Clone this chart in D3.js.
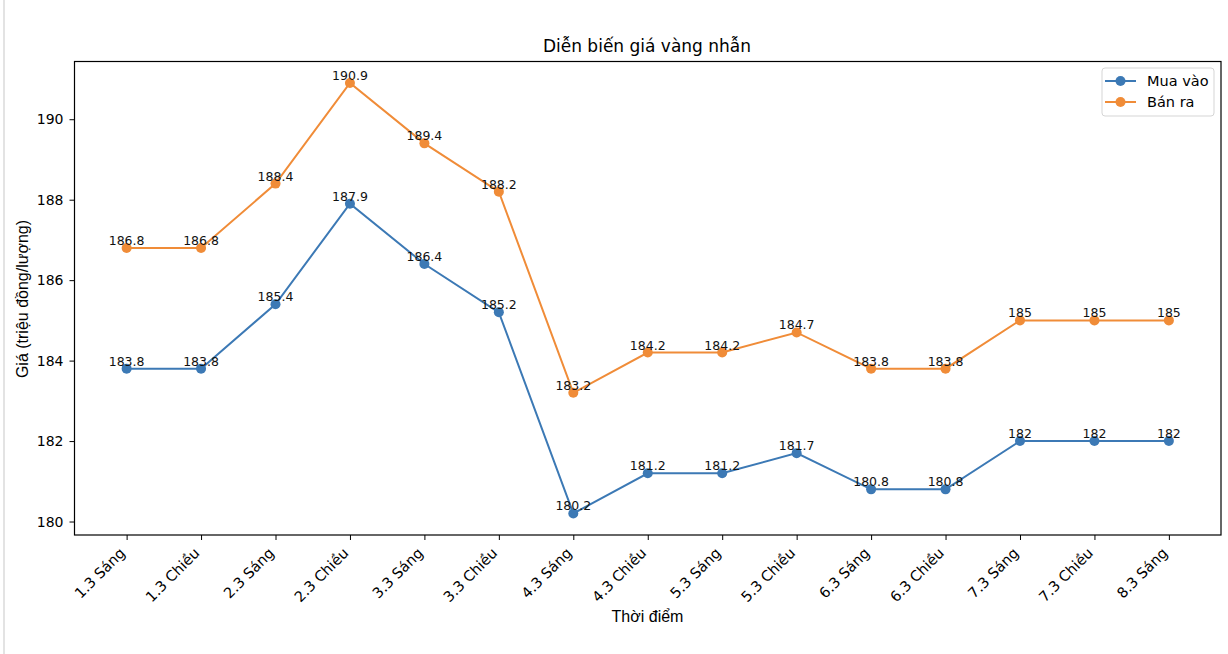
<html>
  <head>
    <meta charset="utf-8" />
    <script src="https://d3js.org/d3.v7.min.js"></script>
    <style>
      body { margin: 0; background: #fff; }
      text { font-family: "DejaVu Sans", sans-serif; }
    </style>
  </head>
  <body>
    <div id="chart"></div>
    <script>
      // du lieu gia vang nhan
      const thoiDiem = ["1.3 Sáng", "1.3 Chiều", "2.3 Sáng", "2.3 Chiều", "3.3 Sáng", "3.3 Chiều",
                        "4.3 Sáng", "4.3 Chiều", "5.3 Sáng", "5.3 Chiều", "6.3 Sáng", "6.3 Chiều",
                        "7.3 Sáng", "7.3 Chiều", "8.3 Sáng"];
      const muaVao = [183.8, 183.8, 185.4, 187.9, 186.4, 185.2, 180.2, 181.2, 181.2, 181.7, 180.8, 180.8, 182, 182, 182];
      const banRa  = [186.8, 186.8, 188.4, 190.9, 189.4, 188.2, 183.2, 184.2, 184.2, 184.7, 183.8, 183.8, 185, 185, 185];
      const yTicks = [180, 182, 184, 186, 188, 190];

      const series = [
        { name: "Mua vào", values: muaVao, color: "#3c79b5" },
        { name: "Bán ra",  values: banRa,  color: "#f08c38" }
      ];

      const W = 1228, H = 654;
      const mLeft = 74.5, mRight = 1221, mTop = 61.5, mBottom = 535;

      const svg = d3.select("#chart").append("svg")
        .attr("width", W).attr("height", H);

      // bordure grise a gauche (capture notebook)
      svg.append("rect").attr("x", 3).attr("y", 0).attr("width", 2).attr("height", H).attr("fill", "#e3e3e3");

      // marges 5% comme matplotlib
      const n = thoiDiem.length;
      const x = d3.scaleLinear().domain([-0.7, n - 1 + 0.7]).range([mLeft, mRight]);
      const all = muaVao.concat(banRa);
      const ymin = d3.min(all), ymax = d3.max(all), pad = (ymax - ymin) * 0.05;
      const y = d3.scaleLinear().domain([ymin - pad, ymax + pad]).range([mBottom, mTop]);

      // axe y
      const gy = svg.append("g").attr("transform", "translate(" + mLeft + ",0)")
        .call(d3.axisLeft(y).tickValues(yTicks).tickSize(5).tickPadding(6).tickFormat(d3.format("d")));
      gy.select(".domain").remove();
      gy.selectAll("text").style("font-size", "14px").attr("fill", "#000");
      gy.selectAll("line").attr("stroke", "#000");

      // axe x
      const gx = svg.append("g").attr("transform", "translate(0," + mBottom + ")")
        .call(d3.axisBottom(x).tickValues(d3.range(n)).tickSize(5).tickFormat(i => thoiDiem[i]));
      gx.select(".domain").remove();
      gx.selectAll("line").attr("stroke", "#000");
      gx.selectAll("text")
        .style("font-size", "14.5px").attr("fill", "#000")
        .attr("text-anchor", "end")
        .attr("dy", null)
        .attr("y", null)
        .attr("transform", "translate(-1,19) rotate(-45)");

      // cadre
      svg.append("rect")
        .attr("x", mLeft).attr("y", mTop)
        .attr("width", mRight - mLeft).attr("height", mBottom - mTop)
        .attr("fill", "none").attr("stroke", "#000").attr("stroke-width", 1.2);

      const line = d3.line().x((d, i) => x(i)).y(d => y(d));

      series.forEach(s => {
        svg.append("path")
          .datum(s.values)
          .attr("d", line)
          .attr("fill", "none")
          .attr("stroke", s.color)
          .attr("stroke-width", 2);
        svg.selectAll(null)
          .data(s.values)
          .enter().append("circle")
          .attr("cx", (d, i) => x(i))
          .attr("cy", d => y(d))
          .attr("r", 5)
          .attr("fill", s.color);
        svg.selectAll(null)
          .data(s.values)
          .enter().append("text")
          .attr("x", (d, i) => x(i))
          .attr("y", d => y(d) - 3)
          .attr("text-anchor", "middle")
          .style("font-size", "12.5px")
          .attr("fill", "#111")
          .text(d => d);
      });

      // titre et libelles
      svg.append("text").attr("x", 647).attr("y", 52).attr("text-anchor", "middle")
        .style("font-size", "17px").attr("fill", "#000").text("Diễn biến giá vàng nhẫn");
      svg.append("text").attr("x", 647.5).attr("y", 621.5).attr("text-anchor", "middle")
        .style("font-family", "'Liberation Sans', Arial, sans-serif")
        .style("font-size", "16px").attr("fill", "#000").text("Thời điểm");
      svg.append("text").attr("transform", "translate(28,299) rotate(-90)").attr("text-anchor", "middle")
        .style("font-family", "'Liberation Sans', Arial, sans-serif")
        .style("font-size", "16px").attr("fill", "#000").text("Giá (triệu đồng/lượng)");

      // legende
      const leg = svg.append("g").attr("transform", "translate(1102,68)");
      leg.append("rect").attr("width", 112).attr("height", 48).attr("rx", 3)
        .attr("fill", "#fff").attr("fill-opacity", 0.8).attr("stroke", "#d5d5d5");
      series.forEach((s, i) => {
        const g = leg.append("g").attr("transform", "translate(0," + (13 + i * 21) + ")");
        g.append("line").attr("x1", 3).attr("x2", 34).attr("stroke", s.color).attr("stroke-width", 2);
        g.append("circle").attr("cx", 18.5).attr("r", 5).attr("fill", s.color);
        g.append("text").attr("x", 45).attr("y", 5).style("font-size", "14.5px").attr("fill", "#000").text(s.name);
      });
    </script>
  </body>
</html>
